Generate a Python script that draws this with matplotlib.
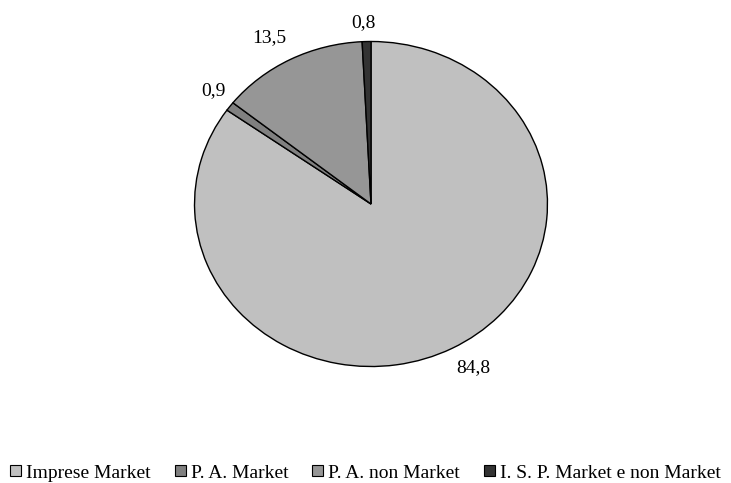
import matplotlib
matplotlib.use("Agg")
import matplotlib.pyplot as plt
from matplotlib.patches import Patch

plt.rcParams['font.family'] = ['Liberation Serif', 'DejaVu Serif']

categories = ["Imprese Market", "P. A. Market", "P. A. non Market",
              "I. S. P. Market e non Market"]
values = [84.8, 0.9, 13.5, 0.8]
colors = ["#c0c0c0", "#808080", "#969696", "#333333"]

# label anchor points in axes data units (pie radius = 1)
label_pos = [(0.582, -1.006), (-0.893, 0.699), (-0.576, 1.025), (-0.045, 1.117)]

fig = plt.figure(figsize=(7.31, 4.83), dpi=100)
ax = fig.add_axes([194 / 731, (483 - 367) / 483, 354 / 731, 326 / 483])

wedges, _ = ax.pie(values, colors=colors, startangle=90, counterclock=False,
                   radius=1.0,
                   wedgeprops=dict(edgecolor="black", linewidth=1.0))
ax.set_aspect('auto')
ax.set_xlim(-1.003, 1.003)
ax.set_ylim(-1.003, 1.003)
ax.axis('off')

for v, (x, y) in zip(values, label_pos):
    ax.text(x, y, f"{v:.1f}".replace('.', ','), ha='center', va='center',
            fontsize=14, clip_on=False)

handles = [Patch(facecolor=c, edgecolor="black", linewidth=0.8) for c in colors]
fig.legend(handles, categories, loc='center', bbox_to_anchor=(0.5, 1 - 473 / 483),
           ncol=4, frameon=False, fontsize=14, handlelength=0.55,
           handleheight=0.55, handletextpad=0.25, columnspacing=1.25,
           borderaxespad=0)

fig.savefig("out.png", dpi=100)
